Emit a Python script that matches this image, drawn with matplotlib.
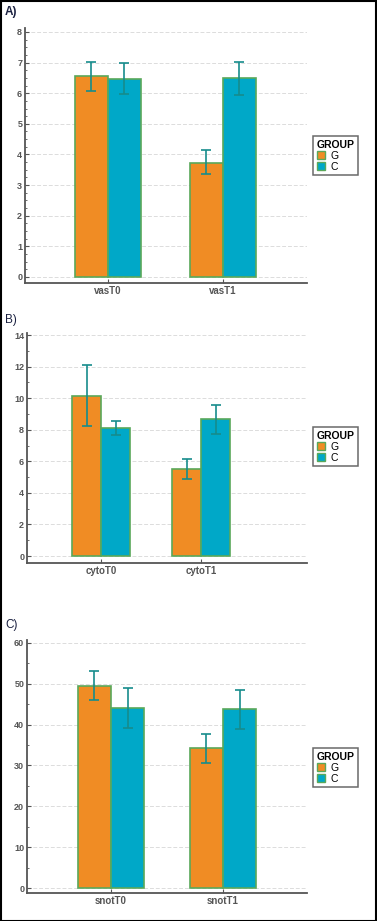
import matplotlib
matplotlib.use("Agg")
import matplotlib.pyplot as plt
from matplotlib.patches import Rectangle, Patch
import numpy as np

plt.rcParams['font.family'] = ['Liberation Sans', 'DejaVu Sans']

# data (means and error bar ends)
groups = ["G", "C"]

vas_labels = ["vasT0", "vasT1"]
vas_g = [6.56, 3.73]
vas_c = [6.47, 6.51]
vas_g_lo = [6.07, 3.37]
vas_g_hi = [7.02, 4.14]
vas_c_lo = [5.97, 5.95]
vas_c_hi = [7.00, 7.03]

cyto_labels = ["cytoT0", "cytoT1"]
cyto_g = [10.16, 5.51]
cyto_c = [8.11, 8.68]
cyto_g_lo = [8.23, 4.90]
cyto_g_hi = [12.08, 6.14]
cyto_c_lo = [7.64, 7.71]
cyto_c_hi = [8.55, 9.59]

snot_labels = ["snotT0", "snotT1"]
snot_g = [49.5, 34.2]
snot_c = [44.1, 43.8]
snot_g_lo = [46.0, 30.7]
snot_g_hi = [53.2, 37.7]
snot_c_lo = [39.2, 38.9]
snot_c_hi = [48.9, 48.5]

ORANGE = "#f08c24"
CYAN = "#00a8c8"
EDGE = "#5aa85a"
ERR = "#168c8c"
AXC = "#555555"

W, H = 377, 921
fig = plt.figure(figsize=(W / 100, H / 100), dpi=100)


def px_axes(left, top, right, bottom):
    return fig.add_axes([left / W, 1 - bottom / H, (right - left) / W, (bottom - top) / H])


def panel(ax, labels, g, c, g_lo, g_hi, c_lo, c_hi, width, xlim, ylim, yticks, minor, leg_pos):
    x = np.arange(len(labels))
    g = np.array(g); c = np.array(c)
    ax.bar(x - width / 2, g, width, color=ORANGE, edgecolor=EDGE, linewidth=1.2, zorder=3)
    ax.bar(x + width / 2, c, width, color=CYAN, edgecolor=EDGE, linewidth=1.2, zorder=3)
    g_err = [g - np.array(g_lo), np.array(g_hi) - g]
    c_err = [c - np.array(c_lo), np.array(c_hi) - c]
    ax.errorbar(x - width / 2, g, yerr=g_err, fmt="none", ecolor=ERR, elinewidth=1.2,
                capsize=3.6, capthick=1.2, zorder=4)
    ax.errorbar(x + width / 2, c, yerr=c_err, fmt="none", ecolor=ERR, elinewidth=1.2,
                capsize=3.6, capthick=1.2, zorder=4)
    ax.set_xlim(*xlim)
    ax.set_ylim(*ylim)
    ax.set_xticks(x)
    ax.set_xticklabels(labels, fontsize=7, fontweight="bold", color="#333333")
    ax.set_yticks(yticks)
    ax.set_yticks(minor, minor=True)
    ax.tick_params(axis="y", labelsize=6.5, colors=AXC, direction="in", length=3, width=0.8, pad=2)
    ax.tick_params(axis="y", which="minor", direction="in", length=1.5, width=0.6, colors=AXC)
    ax.tick_params(axis="x", direction="in", length=3, width=0.8, colors=AXC, pad=2)
    for lab in ax.get_yticklabels():
        lab.set_fontweight("bold")
    ax.grid(axis="y", color="#dcdcdc", linestyle=(0, (4, 2)), linewidth=0.7, zorder=0)
    for s in ["top", "right"]:
        ax.spines[s].set_visible(False)
    for s in ["left", "bottom"]:
        ax.spines[s].set_color(AXC)
        ax.spines[s].set_linewidth(1.3)
    handles = [Patch(facecolor=ORANGE, edgecolor=EDGE, label=groups[0]),
               Patch(facecolor=CYAN, edgecolor=EDGE, label=groups[1])]
    lx, ly = leg_pos
    leg = fig.legend(handles=handles, title="GROUP", loc="upper left",
                     bbox_to_anchor=(lx / W, 1 - ly / H), fontsize=7.5,
                     title_fontproperties={"weight": "bold", "size": 7.5},
                     frameon=True, fancybox=False, edgecolor="#444444",
                     handlelength=0.8, handleheight=0.8, handletextpad=0.5,
                     borderpad=0.35, labelspacing=0.1, alignment="left",
                     borderaxespad=0)
    leg.get_frame().set_linewidth(1.1)
    leg._legend_box.align = "left"


axA = px_axes(25, 28, 307, 283)
panel(axA, vas_labels, vas_g, vas_c, vas_g_lo, vas_g_hi, vas_c_lo, vas_c_hi,
      0.287, (-0.72, 1.73), (-0.2, 8.13), np.arange(0, 9, 1), np.arange(0, 8.01, 0.25),
      (313, 136))

axB = px_axes(27, 333, 307, 563)
panel(axB, cyto_labels, cyto_g, cyto_c, cyto_g_lo, cyto_g_hi, cyto_c_lo, cyto_c_hi,
      0.29, (-0.74, 2.06), (-0.44, 14.13), np.arange(0, 15, 2), np.arange(0, 14.01, 1),
      (313, 427))

axC = px_axes(27, 640, 307, 893)
panel(axC, snot_labels, snot_g, snot_c, snot_g_lo, snot_g_hi, snot_c_lo, snot_c_hi,
      0.295, (-0.75, 1.75), (-1.2, 60.7), np.arange(0, 61, 10), np.arange(0, 60.1, 5),
      (313, 748))

# panel letters
fig.text(5 / W, 1 - 12 / H, "A)", fontsize=8.5, fontweight="bold", color="#1a2040", va="center",
         family=["Liberation Sans Narrow", "Liberation Sans", "DejaVu Sans"])
fig.text(5 / W, 1 - 320 / H, "B)", fontsize=8.5, color="#1a2040", va="center")
fig.text(5 / W, 1 - 625 / H, "C)", fontsize=8.5, color="#1a2040", va="center")

# outer border
fig.patches.append(Rectangle((0.5 / W, 0.5 / H), 1 - 1.5 / W, 1 - 1.5 / H, transform=fig.transFigure,
                             fill=False, edgecolor="black", linewidth=1.5))

fig.savefig("out.png", dpi=100)
